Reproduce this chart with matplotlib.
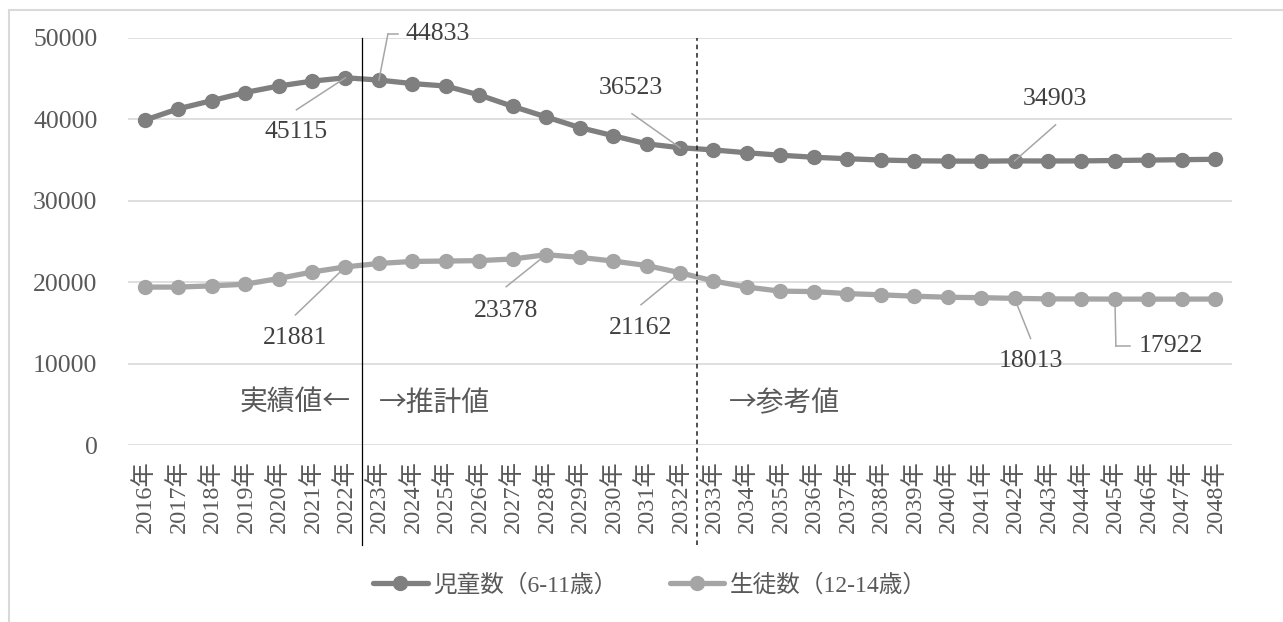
import matplotlib
matplotlib.use('Agg')
import matplotlib.pyplot as plt
from matplotlib.patches import Rectangle
from matplotlib.lines import Line2D
from matplotlib.transforms import offset_copy

# ---------------- data ----------------
years = ["2016年", "2017年", "2018年", "2019年", "2020年", "2021年", "2022年",
         "2023年", "2024年", "2025年", "2026年", "2027年", "2028年", "2029年",
         "2030年", "2031年", "2032年", "2033年", "2034年", "2035年", "2036年",
         "2037年", "2038年", "2039年", "2040年", "2041年", "2042年", "2043年",
         "2044年", "2045年", "2046年", "2047年", "2048年"]

children = [39900, 41300, 42300, 43300, 44100, 44700, 45115,
            44833, 44400, 44100, 43000, 41600, 40300, 39000,
            38000, 37000, 36523, 36250, 35900, 35600, 35350,
            35170, 35010, 34920, 34880, 34870, 34903, 34890,
            34900, 34950, 35000, 35050, 35100]

students = [19400, 19400, 19550, 19750, 20450, 21250, 21881,
            22300, 22550, 22600, 22650, 22850, 23378, 23050,
            22600, 22050, 21162, 20150, 19400, 18900, 18850,
            18600, 18450, 18280, 18150, 18100, 18013, 17950,
            17940, 17922, 17920, 17920, 17930]

series_names = ["児童数（6-11歳）", "生徒数（12-14歳）"]
yticks = [0, 10000, 20000, 30000, 40000, 50000]
region_labels = ["実績値←", "→推計値", "→参考値"]

# year indices that carry a data label
labels_children = [6, 7, 16, 26]
labels_students = [6, 12, 16, 26, 29]

# ---------------- style ----------------
W, H = 1283, 622
DPI = 100
NUM_FONT = ['Liberation Serif', 'Noto Sans CJK JP']
JP_FONT = ['Noto Sans CJK JP', 'DejaVu Sans']
c_dark = '#7f7f7f'
c_light = '#a5a5a5'
c_text = '#595959'
c_label = '#404040'
c_leader = '#a6a6a6'
LW, MS = 3.8, 10

fig = plt.figure(figsize=(W / DPI, H / DPI), dpi=DPI)
fig.patch.set_facecolor('white')

# outer border (left & top visible)
fig.patches.append(Rectangle((9 / W, -0.1), 1.2, (H - 10) / H + 0.1,
                             transform=fig.transFigure, fill=False,
                             edgecolor='#d9d9d9', linewidth=1.5))

ax_l, ax_r, ax_t, ax_b = 128, 1232, 38, 445
ax = fig.add_axes([ax_l / W, (H - ax_b) / H, (ax_r - ax_l) / W, (ax_b - ax_t) / H])

x = list(range(len(years)))
ax.plot(x, children, color=c_dark, lw=LW, marker='o', ms=MS, zorder=4,
        solid_capstyle='round', label=series_names[0])
ax.plot(x, students, color=c_light, lw=LW, marker='o', ms=MS, zorder=4,
        solid_capstyle='round', label=series_names[1])

ax.set_xlim(-0.5, len(years) - 0.5)
ax.set_ylim(0, 50000)
ax.set_yticks(yticks)
ax.set_yticklabels([str(v) for v in yticks], family=NUM_FONT, fontsize=18.5, color=c_text)
ax.set_xticks(x)
ax.set_xticklabels(years, rotation=90, family=NUM_FONT, fontsize=17.5, color=c_text,
                   va='top', ha='center')
ax.tick_params(axis='y', length=0, pad=22)
ax.tick_params(axis='x', length=0, pad=11)
for s in ax.spines.values():
    s.set_visible(False)
ax.grid(axis='y', color='#d9d9d9', lw=1.2)
ax.set_axisbelow(True)

# vertical separators
ybot = (ax_b - 545) / (ax_b - ax_t)
ax.axvline(6.5, ymin=ybot, ymax=1, color='#000000', lw=0.9, clip_on=False, zorder=5)
ax.axvline(16.5, ymin=ybot, ymax=1, color='#202020', lw=1.1, ls=(0, (3, 2.5)),
           clip_on=False, zorder=5)

# region labels
ry = 5150
ax.annotate(region_labels[0], xy=(6.5, ry), xytext=(-12, 0), textcoords='offset pixels',
            ha='right', va='center', family=JP_FONT, fontsize=20, color=c_text)
ax.annotate(region_labels[1], xy=(6.5, ry), xytext=(17, 0), textcoords='offset pixels',
            ha='left', va='center', family=JP_FONT, fontsize=20, color=c_text)
ax.annotate(region_labels[2], xy=(16.5, ry), xytext=(32, 0), textcoords='offset pixels',
            ha='left', va='center', family=JP_FONT, fontsize=20, color=c_text)


def draw_label(i, v, path, text_off, ha='center'):
    """Leader line (pixel offsets from the data point) plus value text."""
    pts = [(0, 0)] + path
    inv = ax.transData.inverted()
    for a, b in zip(pts[:-1], pts[1:]):
        pa = offset_copy(ax.transData, fig=fig, x=a[0], y=a[1], units='dots').transform((i, v))
        pb = offset_copy(ax.transData, fig=fig, x=b[0], y=b[1], units='dots').transform((i, v))
        da, db = inv.transform(pa), inv.transform(pb)
        ax.add_line(Line2D([da[0], db[0]], [da[1], db[1]], color=c_leader, lw=1.1,
                           zorder=6, clip_on=False))
    ax.annotate(str(v), xy=(i, v), xytext=text_off, textcoords='offset pixels',
                ha=ha, va='center', family=NUM_FONT, fontsize=18.5, color=c_label, zorder=7)


fig.canvas.draw()

ch_styles = {
    6: ([(-49, -32)], (-49, -54), 'center'),
    7: ([(9, 46), (19, 46)], (27, 46), 'left'),
    16: ([(-48, 34)], (-49, 60), 'center'),
    26: ([(41, 36)], (40, 62), 'center'),
}
st_styles = {
    6: ([(-50, -48)], (-50, -71), 'center'),
    12: ([(-40, -32)], (-40, -56), 'center'),
    16: ([(-39, -32)], (-39, -55), 'center'),
    26: ([(16, -40)], (16, -63), 'center'),
    29: ([(1, -47), (15, -47)], (24, -47), 'left'),
}
for i in labels_children:
    path, off, ha = ch_styles[i]
    draw_label(i, children[i], path, off, ha)
for i in labels_students:
    path, off, ha = st_styles[i]
    draw_label(i, students[i], path, off, ha)

# legend
handles = [Line2D([], [], color=c_dark, lw=LW, marker='o', ms=MS, solid_capstyle='round'),
           Line2D([], [], color=c_light, lw=LW, marker='o', ms=MS, solid_capstyle='round')]
leg = fig.legend(handles, series_names, loc='center', bbox_to_anchor=(650 / W, (H - 585) / H),
                 ncol=2, frameon=False, handlelength=2.3, handletextpad=0.25,
                 columnspacing=2.2, prop={'family': NUM_FONT, 'size': 17})
for t in leg.get_texts():
    t.set_color(c_text)

fig.savefig('out.png', dpi=DPI, facecolor='white')
